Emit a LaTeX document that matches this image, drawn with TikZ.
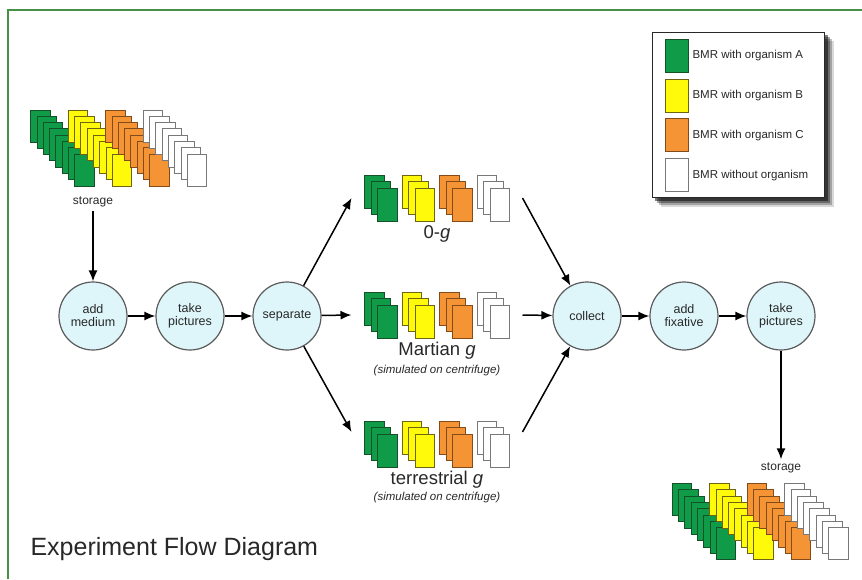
\documentclass[tikz,border=0pt]{standalone}
\usepackage{fontspec}
\setmainfont{Liberation Sans}
\usepackage{tikz}
\usetikzlibrary{arrows.meta,positioning,backgrounds}

\definecolor{bmrgreen}{RGB}{16,155,72}
\definecolor{greenline}{RGB}{20,80,40}
\definecolor{bmryellow}{RGB}{255,250,10}
\definecolor{yellowline}{RGB}{110,100,20}
\definecolor{bmrorange}{RGB}{245,148,52}
\definecolor{orangeline}{RGB}{130,75,25}
\definecolor{whiteline}{RGB}{120,120,120}
\definecolor{circfill}{RGB}{222,246,250}
\definecolor{circline}{RGB}{90,90,90}
\definecolor{framegreen}{RGB}{70,145,70}
\definecolor{txtgray}{RGB}{40,40,40}

% #1 group node, #2 last card index, #3 offset between cards, #4 card height
\newcommand{\drawstacks}[4]{%
  \pgfmathsetmacro{\wx}{(3*37.5+#2*#3+19)/2}
  \pgfmathsetmacro{\wy}{(#2*#3+#4)/2}
  \begin{scope}[shift={(#1)}]
    \foreach \clr [count=\k from 0] in {cardA,cardB,cardC,cardN}
      \foreach \i in {0,...,#2}
        \draw[\clr] ({-\wx+37.5*\k+#3*\i},{-\wy+#3*\i}) rectangle ++(19.5,#4);
  \end{scope}}

\begin{document}
\begin{tikzpicture}[
  x=1pt,y=-1pt,
  node distance=97pt
]

  \tikzstyle{stepnode}=[draw=circline,circle,fill=circfill,line width=1.2pt,minimum size=68pt,inner sep=0pt,align=center,text=txtgray,font=\fontsize{12.5}{13}\selectfont]
  \tikzstyle{groupnode}=[rectangle,minimum width=145pt,minimum height=46pt,inner sep=0pt,outer xsep=13pt,outer ysep=0pt]
  \tikzstyle{grplab}=[text=txtgray,font=\fontsize{18.5}{20}\selectfont]
  \tikzstyle{simlab}=[text=txtgray,font=\fontsize{11.5}{12}\selectfont\itshape]
  \tikzstyle{storelab}=[text=txtgray,font=\fontsize{12}{13}\selectfont]
  \tikzstyle{legtext}=[text=txtgray,font=\fontsize{11.5}{12}\selectfont]
  \tikzstyle{swatch}=[rectangle,line width=1pt,minimum width=23pt,minimum height=33pt,inner sep=0pt]

  \tikzstyle{cardA}=[draw=greenline,fill=bmrgreen,line width=0.9pt]
  \tikzstyle{cardB}=[draw=yellowline,fill=bmryellow,line width=0.9pt]
  \tikzstyle{cardC}=[draw=orangeline,fill=bmrorange,line width=0.9pt]
  \tikzstyle{cardN}=[draw=whiteline,fill=white,line width=0.9pt]

  \tikzstyle{pointer}=[draw,line width=1.5pt,-{Latex[length=11pt,width=9pt]}]

  \useasboundingbox (0,0) rectangle (862,579);
  \draw[framegreen,line width=2.5pt] (8,579) -- (8,10) -- (862,10);

  % process steps
  \node[stepnode] (addmed) at (93,316) {add\\medium};
  \node[stepnode] (takepicA) [right of=addmed] {take\\pictures};
  \node[stepnode] (separate) [right of=takepicA] {separate};
  \node[stepnode] (collect) at (587,316) {collect};
  \node[stepnode] (fixative) [right of=collect] {add\\fixative};
  \node[stepnode] (takepicB) [right of=fixative] {take\\pictures};

  % card groups
  \node[groupnode,minimum width=176pt,minimum height=76pt,outer xsep=0pt] (storeA) at (118.5,148) {};
  \node[storelab] (storeAlab) at (93,202) {storage};
  \node[groupnode,minimum width=176pt,minimum height=77pt,outer xsep=0pt] (storeB) at (760,521.5) {};
  \node[storelab] (storeBlab) at (781,468) {storage};

  \node[groupnode] (zerog) at (437,198) {};
  \node[grplab] (zeroglab) at (437,234) {0-\textit{g}};
  \node[groupnode] (mars) at (437,315) {};
  \node[grplab] (marslab) at (437,351) {Martian \textit{g}};
  \node[simlab] (marssim) at (437,371) {(simulated on centrifuge)};
  \node[groupnode] (terra) at (437,444) {};
  \node[grplab] (terralab) at (437,480) {terrestrial \textit{g}};
  \node[simlab] (terrasim) at (437,498) {(simulated on centrifuge)};

  \drawstacks{storeA}{7}{6.3}{32}
  \drawstacks{storeB}{7}{6.3}{32}
  \drawstacks{zerog}{2}{6.5}{33}
  \drawstacks{mars}{2}{6.5}{33}
  \drawstacks{terra}{2}{6.5}{33}

  % pointers
  \draw[pointer] (storeAlab) -- (addmed);
  \draw[pointer] (addmed)    -- (takepicA);
  \draw[pointer] (takepicA)  -- (separate);
  \draw[pointer] (separate)  -- (zerog.west);
  \draw[pointer] (separate)  -- (mars.west);
  \draw[pointer] (separate)  -- (terra.172);
  \draw[pointer] (zerog.east) -- (collect);
  \draw[pointer] (mars.east)  -- (collect);
  \draw[pointer] (terra.8)    -- (collect);
  \draw[pointer] (collect)   -- (fixative);
  \draw[pointer] (fixative)  -- (takepicB);
  \draw[pointer] (takepicB)  -- (storeBlab);

  % legend
  \node[draw=txtgray,fill=white,line width=1.2pt,minimum width=172pt,minimum height=165pt,inner sep=0pt,anchor=north west] (legend) at (652,32) {};
  \begin{scope}[on background layer]
    \foreach \o/\op in {9/0.15,7/0.25,5/0.35,3/0.5}
      \fill[black,opacity=\op] ([shift={(\o,\o)}]legend.north west) rectangle ([shift={(\o,\o)}]legend.south east);
  \end{scope}
  \node[swatch,draw=greenline,fill=bmrgreen] (swA) at (676.5,56) {};
  \node[swatch,draw=yellowline,fill=bmryellow] (swB) [below=5.7pt of swA] {};
  \node[swatch,draw=orangeline,fill=bmrorange] (swC) [below=5.7pt of swB] {};
  \node[swatch,draw=whiteline,fill=white] (swN) [below=5.7pt of swC] {};
  \node[legtext,right=0.5pt of swA] (legA) {BMR with organism A};
  \node[legtext,right=0.5pt of swB] (legB) {BMR with organism B};
  \node[legtext,right=0.5pt of swC] (legC) {BMR with organism C};
  \node[legtext,right=0.5pt of swN] (legN) {BMR without organism};

  % title
  \node[anchor=west,text=txtgray,font=\fontsize{25}{30}\selectfont] (title) at (27,549) {Experiment Flow Diagram};

\end{tikzpicture}
\end{document}
